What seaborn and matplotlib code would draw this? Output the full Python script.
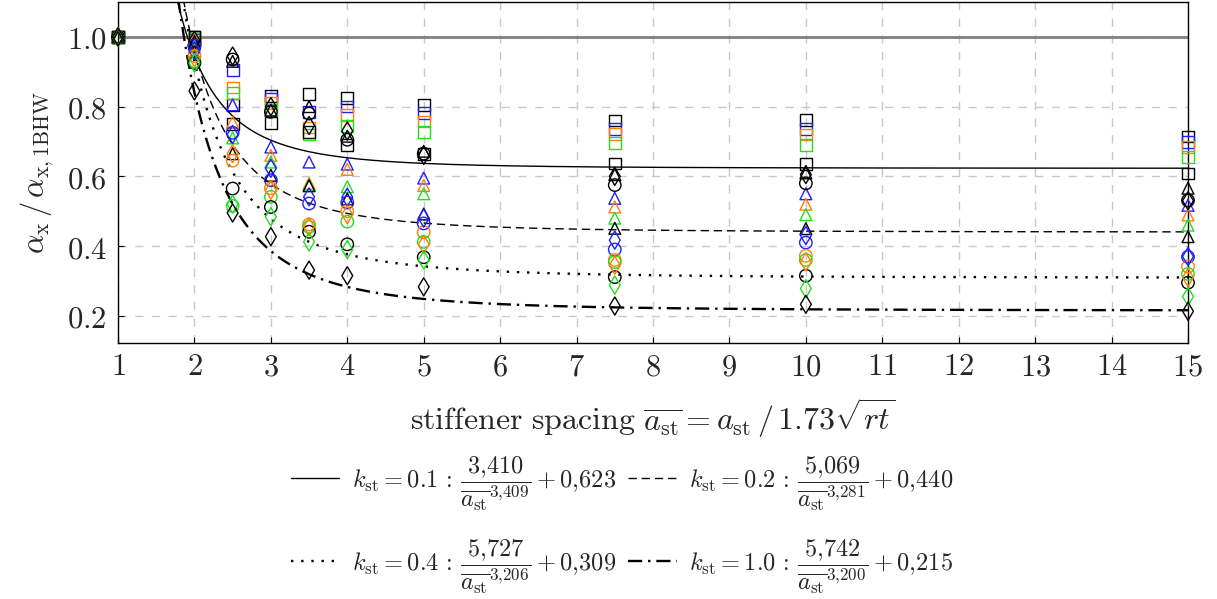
import numpy as np
import pandas as pd
import matplotlib
matplotlib.use("Agg")
import matplotlib.pyplot as plt
import seaborn as sns

# ---------------- data ----------------
x_vals = [1, 2, 2.5, 3, 3.5, 4, 5, 7.5, 10, 15]

# squares
sq_k  = [1.0, 1.0, 0.805, 0.830, 0.836, 0.825, 0.805, 0.760, 0.762, 0.714]
sq_b  = [1.0, 0.990, 0.905, 0.822, 0.784, 0.800, 0.782, 0.735, 0.735, 0.698]
sq_o  = [1.0, 1.0, 0.855, 0.810, 0.740, 0.775, 0.757, 0.722, 0.720, 0.684]
sq_g  = [1.0, 0.995, 0.840, 0.790, 0.720, 0.745, 0.728, 0.695, 0.690, 0.655]
sq_k2 = [1.0, 1.0, 0.750, 0.752, 0.727, 0.690, 0.665, 0.637, 0.635, 0.608]
# triangles
tr_k  = [1.0, 0.990, 0.930, 0.790, 0.800, 0.715, 0.672, 0.605, 0.610, 0.566]
tr_b  = [1.0, 0.980, 0.805, 0.684, 0.641, 0.635, 0.595, 0.537, 0.550, 0.517]
tr_o  = [1.0, 0.995, 0.755, 0.660, 0.580, 0.620, 0.574, 0.512, 0.520, 0.489]
tr_g  = [1.0, 0.970, 0.710, 0.641, 0.575, 0.570, 0.550, 0.480, 0.490, 0.460]
tr_k2 = [1.0, 0.985, 0.665, 0.603, 0.573, 0.535, 0.492, 0.451, 0.450, 0.427]
# circles
ci_k  = [1.0, 0.975, 0.935, 0.785, 0.780, 0.705, 0.665, 0.575, 0.580, 0.531]
ci_b  = [1.0, 0.975, 0.725, 0.589, 0.522, 0.525, 0.465, 0.390, 0.410, 0.369]
ci_o  = [1.0, 0.945, 0.645, 0.566, 0.462, 0.500, 0.440, 0.360, 0.372, 0.341]
ci_g  = [1.0, 0.930, 0.515, 0.541, 0.455, 0.470, 0.412, 0.354, 0.360, 0.320]
ci_k2 = [1.0, 0.925, 0.565, 0.512, 0.441, 0.405, 0.368, 0.311, 0.315, 0.295]
# diamonds
di_k  = [1.0, 0.990, 0.945, 0.800, 0.746, 0.730, 0.660, 0.600, 0.605, 0.530]
di_b  = [1.0, 0.960, 0.720, 0.623, 0.541, 0.540, 0.480, 0.417, 0.430, 0.370]
di_o  = [1.0, 0.940, 0.665, 0.560, 0.455, 0.490, 0.405, 0.345, 0.355, 0.310]
di_g  = [1.0, 0.925, 0.520, 0.484, 0.412, 0.390, 0.360, 0.288, 0.278, 0.255]
di_k2 = [1.0, 0.845, 0.495, 0.427, 0.331, 0.315, 0.283, 0.228, 0.233, 0.213]

# fitted curves  a / x^b + c
k_st   = ["0.1", "0.2", "0.4", "1.0"]
fit_a  = [3.410, 5.069, 5.727, 5.742]
fit_b  = [3.409, 3.281, 3.206, 3.200]
fit_c  = [0.623, 0.440, 0.309, 0.215]
fit_a_txt = ["3{,}410", "5{,}069", "5{,}727", "5{,}742"]
fit_b_txt = ["3{,}409", "3{,}281", "3{,}206", "3{,}200"]
fit_c_txt = ["0{,}623", "0{,}440", "0{,}309", "0{,}215"]

x_ticks = list(range(1, 16))
y_ticks = [0.2, 0.4, 0.6, 0.8, 1.0]
y_tick_labels = ["0.2", "0.4", "0.6", "0.8", "1.0"]

# ---------------- style ----------------
sns.set_theme(style="white")
plt.rcParams["font.family"] = ["DejaVu Serif"]
plt.rcParams["mathtext.fontset"] = "cm"

BLACK = "#000000"
BLUE = "#1f1fff"
ORANGE = "#ff8000"
GREEN = "#1fe01f"

series = [
    ("s", 72, [(sq_k, BLACK), (sq_b, BLUE), (sq_o, ORANGE), (sq_g, GREEN), (sq_k2, BLACK)]),
    ("^", 72, [(tr_k, BLACK), (tr_b, BLUE), (tr_o, ORANGE), (tr_g, GREEN), (tr_k2, BLACK)]),
    ("o", 80, [(ci_k, BLACK), (ci_b, BLUE), (ci_o, ORANGE), (ci_g, GREEN), (ci_k2, BLACK)]),
    ("d", 85, [(di_k, BLACK), (di_b, BLUE), (di_o, ORANGE), (di_g, GREEN), (di_k2, BLACK)]),
]

fig = plt.figure(figsize=(12.17, 5.99), dpi=100)
ax = fig.add_axes([118 / 1217, 1 - 343 / 599, 1070 / 1217, 341 / 599])

ax.set_xlim(1, 15)
ax.set_ylim(0.122, 1.1)
ax.set_xticks(x_ticks)
ax.set_xticklabels([f"${t}$" for t in x_ticks])
ax.set_yticks(y_ticks)
ax.set_yticklabels([f"${t}$" for t in y_tick_labels])
ax.tick_params(axis="both", labelsize=22, direction="in", length=4, width=0.8, color="#000000",
               bottom=True, left=True, top=False, right=False)
ax.tick_params(axis="y", pad=8)
ax.tick_params(axis="x", pad=6)
ax.grid(True, color="#c8c8c8", linestyle=(0, (6, 6)), linewidth=1.0)
ax.set_axisbelow(True)
for sp in ax.spines.values():
    sp.set_color("black")
    sp.set_linewidth(1.0)

# horizontal reference line at 1.0
ax.axhline(1.0, color="#808080", linewidth=2.0, zorder=2)

# fitted curves
xs = np.linspace(1.0, 15.0, 600)
styles = ["-", (0, (6, 3.5)), (0, (1, 3.3)), (0, (6, 2.5, 1, 2.5))]
widths = [1.0, 1.0, 1.7, 1.7]
for i in range(4):
    ys = fit_a[i] / xs ** fit_b[i] + fit_c[i]
    lab = (r"$k_{\mathrm{st}} = " + k_st[i] + r"\,:\,\dfrac{" + fit_a_txt[i] + r"}{\overline{a_{\mathrm{st}}}^{"
           + fit_b_txt[i] + r"}} + " + fit_c_txt[i] + r"$")
    sns.lineplot(x=xs, y=ys, color="black", linestyle=styles[i], linewidth=widths[i],
                 ax=ax, label=lab, zorder=3, sort=False, estimator=None)

# markers
for marker, size, group in series:
    for vals, col in group:
        sns.scatterplot(x=x_vals, y=vals, marker=marker, s=size, color=col, facecolor="none",
                        edgecolor=col, linewidth=1.0, ax=ax, clip_on=False, zorder=4, legend=False)

handles, labs = ax.get_legend_handles_labels()
if ax.get_legend() is not None:
    ax.get_legend().remove()
order = [0, 2, 1, 3]
fig.legend([handles[i] for i in order], [labs[i] for i in order],
           loc="upper center", bbox_to_anchor=(0.511, 0.278), ncol=2, frameon=False,
           fontsize=17.5, labelspacing=1.0, columnspacing=0.5, handlelength=2.0, handletextpad=0.5)

ax.set_xlabel(r"$\mathrm{stiffener\ spacing}\ \overline{a_{\mathrm{st}}} = a_{\mathrm{st}}\,/\,1.73\sqrt{rt}$",
              fontsize=23, labelpad=10)
ax.set_ylabel(r"$\alpha_{\mathrm{x}}\,/\,\alpha_{\mathrm{x,1BHW}}$", fontsize=22, labelpad=8)

fig.savefig("out.png", dpi=100)
